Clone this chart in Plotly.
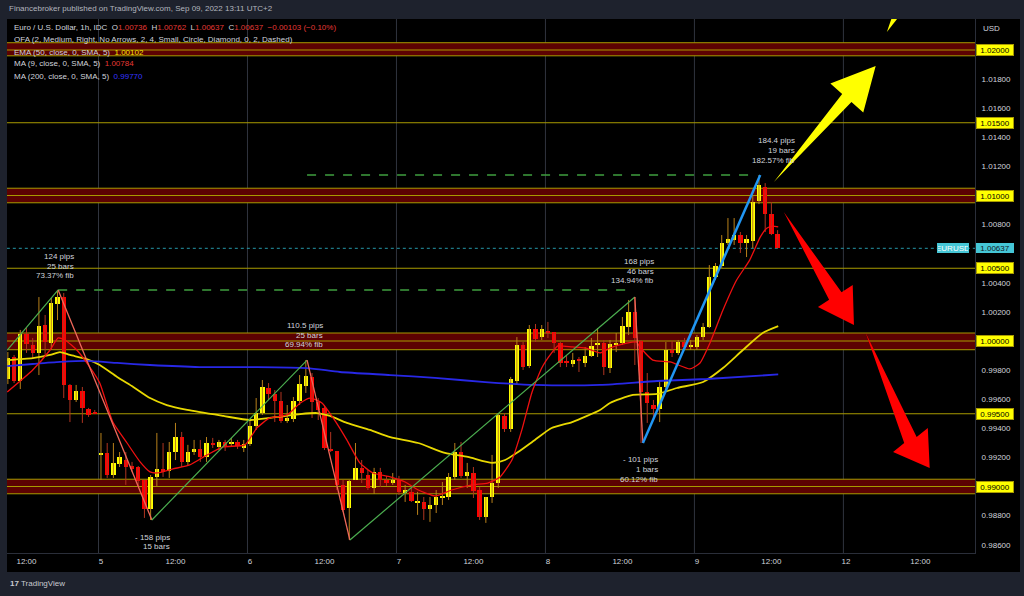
import plotly.graph_objects as go

FONT = "Liberation Sans, Arial, sans-serif"
TXT = "#d1d4dc"

# ---------------- data (hour offsets from Sep 5 00:00, hourly EURUSD) ----------------
hours = list(range(-15, 110))
opens = [0.99739, 0.99890, 0.99725, 1.00048, 0.99973, 0.99918, 1.00110, 0.99986, 1.00254, 1.00302,
         0.99698, 0.99595, 0.99656, 0.99533, 0.99512,
         0.99217, 0.99231, 0.99079, 0.99155, 0.99182, 0.99141, 0.99134, 0.99045, 0.98846, 0.99066,
         0.99121, 0.99107, 0.99237, 0.99340, 0.99169, 0.99237, 0.99258, 0.99203, 0.99299, 0.99272,
         0.99306, 0.99292, 0.99306, 0.99265, 0.99292, 0.99416, 0.99505, 0.99677, 0.99636, 0.99588,
         0.99450, 0.99464, 0.99588, 0.99691, 0.99753, 0.99581, 0.99540, 0.99258, 0.99244, 0.99011,
         0.98853, 0.99045, 0.99128, 0.99079, 0.98990, 0.99100, 0.99045, 0.99024, 0.99045, 0.98956,
         0.98963, 0.98887, 0.98894, 0.98846, 0.98873, 0.98921, 0.98928, 0.99066, 0.99237, 0.99073,
         0.99093, 0.98976, 0.98791, 0.98928, 0.99024, 0.99485, 0.99395, 0.99725, 0.99973, 0.99828,
         1.00082, 1.00027, 1.00069, 1.00062, 0.99986, 0.99856, 0.99842, 0.99876, 0.99849, 0.99897,
         0.99979, 0.99986, 0.99814, 0.99979, 0.99986, 1.00096, 1.00199, 1.00000, 0.99650, 0.99560,
         0.99533, 0.99684, 0.99938, 0.99918, 0.99993, 0.99959, 0.99959, 1.00027, 1.00096, 1.00440,
         1.00515, 1.00673, 1.00694, 1.00728, 1.00673, 1.00687, 1.00962, 1.01058, 1.00872, 1.00736]
highs = [0.99924, 0.99904, 1.00076, 1.00089, 1.00021, 1.00302, 1.00179, 1.00296, 1.00344, 1.00330,
         0.99704, 0.99698, 0.99684, 0.99540, 0.99526,
         0.99368, 0.99299, 0.99299, 0.99237, 0.99237, 0.99169, 0.99141, 0.99045, 0.99079, 0.99368,
         0.99299, 0.99306, 0.99437, 0.99375, 0.99286, 0.99320, 0.99320, 0.99340, 0.99334, 0.99320,
         0.99320, 0.99334, 0.99320, 0.99320, 0.99457, 0.99608, 0.99732, 0.99711, 0.99663, 0.99650,
         0.99560, 0.99615, 0.99766, 0.99869, 0.99780, 0.99608, 0.99560, 0.99375, 0.99244, 0.99045,
         0.99045, 0.99299, 0.99182, 0.99114, 0.99128, 0.99128, 0.99073, 0.99093, 0.99073, 0.99011,
         0.98990, 0.98963, 0.98928, 0.98928, 0.98976, 0.99031, 0.99093, 0.99299, 0.99306, 0.99162,
         0.99134, 0.98997, 0.98928, 0.99217, 0.99505, 0.99505, 0.99753, 1.00027, 0.99993, 1.00110,
         1.00117, 1.00110, 1.00131, 1.00062, 0.99993, 0.99904, 0.99918, 0.99890, 0.99959, 1.00021,
         1.00089, 1.00007, 1.00007, 1.00055, 1.00165, 1.00282, 1.00302, 1.00007, 0.99780, 0.99595,
         0.99732, 0.99993, 1.00000, 1.00007, 1.00021, 1.00007, 1.00041, 1.00124, 1.00522, 1.00536,
         1.00728, 1.00845, 1.00845, 1.00749, 1.00728, 1.01003, 1.01140, 1.01085, 1.00955, 1.00762]
lows = [0.99704, 0.99711, 0.99670, 0.99918, 0.99876, 0.99766, 0.99904, 0.99938, 1.00144, 0.99608,
        0.99443, 0.99581, 0.99437, 0.99478, 0.99498,
        0.99045, 0.99059, 0.99059, 0.99134, 0.99011, 0.99100, 0.98997, 0.98784, 0.98770, 0.98997,
        0.99066, 0.99059, 0.99182, 0.99134, 0.99148, 0.99217, 0.99169, 0.99169, 0.99265, 0.99251,
        0.99244, 0.99272, 0.99258, 0.99237, 0.99279, 0.99389, 0.99492, 0.99595, 0.99443, 0.99437,
        0.99437, 0.99443, 0.99560, 0.99643, 0.99471, 0.99457, 0.99251, 0.99237, 0.98976, 0.98825,
        0.98633, 0.99045, 0.99024, 0.98976, 0.98949, 0.98997, 0.99004, 0.99011, 0.98942, 0.98894,
        0.98894, 0.98805, 0.98770, 0.98757, 0.98818, 0.98873, 0.98908, 0.99045, 0.99059, 0.98990,
        0.98921, 0.98770, 0.98750, 0.98887, 0.98990, 0.99375, 0.99375, 0.99698, 0.99801, 0.99814,
        0.99993, 1.00007, 1.00021, 0.99918, 0.99821, 0.99821, 0.99821, 0.99787, 0.99821, 0.99890,
        0.99890, 0.99766, 0.99780, 0.99924, 0.99973, 1.00041, 0.99835, 0.99299, 0.99437, 0.99471,
        0.99443, 0.99663, 0.99890, 0.99904, 0.99945, 0.99938, 0.99938, 1.00007, 1.00089, 1.00419,
        1.00502, 1.00660, 1.00660, 1.00605, 1.00577, 1.00639, 1.00941, 1.00749, 1.00728, 1.00637]
closes = [0.99883, 0.99725, 1.00048, 0.99979, 0.99918, 1.00103, 0.99993, 1.00261, 1.00302, 0.99698,
          0.99595, 0.99656, 0.99540, 0.99492, 0.99505,
          0.99224, 0.99079, 0.99162, 0.99203, 0.99134, 0.99121, 0.99038, 0.98846, 0.99066, 0.99121,
          0.99100, 0.99237, 0.99340, 0.99169, 0.99237, 0.99258, 0.99203, 0.99299, 0.99292, 0.99306,
          0.99272, 0.99306, 0.99279, 0.99292, 0.99416, 0.99505, 0.99684, 0.99636, 0.99588, 0.99450,
          0.99471, 0.99588, 0.99704, 0.99760, 0.99581, 0.99526, 0.99265, 0.99244, 0.99011, 0.98839,
          0.99038, 0.99128, 0.99093, 0.98990, 0.99100, 0.99045, 0.99024, 0.99045, 0.98963, 0.98976,
          0.98901, 0.98901, 0.98846, 0.98873, 0.98928, 0.98928, 0.99066, 0.99237, 0.99073, 0.99100,
          0.98969, 0.98791, 0.98928, 0.99024, 0.99492, 0.99395, 0.99739, 0.99973, 0.99821, 1.00082,
          1.00014, 1.00082, 1.00055, 0.99986, 0.99849, 0.99849, 0.99869, 0.99863, 0.99897, 0.99966,
          0.99986, 0.99821, 0.99979, 0.99986, 1.00103, 1.00199, 1.00021, 0.99650, 0.99574, 0.99533,
          0.99684, 0.99938, 0.99918, 0.99993, 0.99959, 0.99966, 1.00027, 1.00096, 1.00440, 1.00515,
          1.00673, 1.00701, 1.00728, 1.00673, 1.00701, 1.00955, 1.01072, 1.00872, 1.00736, 1.00637]

# indicator lines (hour, value)
ma9_h = [-15.1, -11.0, -8.2, -6.9, -5.8, -3.9, -1.8, -0.2, 1.9, 4.2, 6.3, 7.9, 9.0, 11.6, 14.3, 17.1,
         19.7, 23.2, 25.1, 27.2, 30.0, 32.1, 33.7, 35.6, 37.4, 39.6, 41.7, 43.8, 46.6, 49.0, 51.1, 53.8,
         56.5, 59.8, 62.3, 64.3, 66.2, 67.8, 69.4, 71.0, 72.6, 73.6, 75.9, 78.0, 80.4, 82.0, 84.7, 86.3,
         86.8, 88.9, 91.7, 94.9, 96.5, 98.1, 100.2, 102.4, 104.5, 106.2, 107.3, 108.2, 109.1]
ma9_v = [0.99650, 0.99801, 0.99938, 1.00021, 1.00007, 0.99938, 0.99821, 0.99711, 0.99443, 0.99299,
         0.99169, 0.99100, 0.99093, 0.99121, 0.99148, 0.99217, 0.99272, 0.99286, 0.99402, 0.99471,
         0.99492, 0.99574, 0.99608, 0.99574, 0.99471, 0.99320, 0.99162, 0.99093, 0.99066, 0.99031,
         0.98976, 0.98935, 0.98976, 0.99011, 0.99024, 0.99066, 0.99182, 0.99389, 0.99643, 0.99814,
         0.99918, 0.99966, 0.99959, 0.99952, 0.99918, 0.99952, 0.99986, 0.99993, 0.99959, 0.99869,
         0.99856, 0.99808, 0.99849, 0.99986, 1.00213, 1.00419, 1.00556, 1.00714, 1.00776, 1.00790,
         1.00784]
ema50_h = [-15.1, -11.0, -8.2, -6.6, -5.0, -2.3, -0.2, 2.6, 5.2, 7.9, 10.6, 13.9, 19.7, 24.0, 28.4,
           32.1, 34.8, 36.9, 39.6, 43.3, 46.6, 51.1, 55.4, 59.1, 63.0, 65.1, 67.2, 69.9, 72.6, 75.9,
           80.4, 82.0, 85.7, 89.6, 92.8, 97.0, 100.2, 103.4, 106.6, 109.1]
ema50_v = [0.99869, 0.99883, 0.99904, 0.99924, 0.99904, 0.99876, 0.99835, 0.99753, 0.99684, 0.99608,
           0.99560, 0.99526, 0.99485, 0.99457, 0.99478, 0.99498, 0.99505, 0.99485, 0.99437, 0.99389,
           0.99340, 0.99299, 0.99231, 0.99203, 0.99162, 0.99182, 0.99237, 0.99320, 0.99402, 0.99443,
           0.99526, 0.99574, 0.99629, 0.99636, 0.99677, 0.99718, 0.99814, 0.99938, 1.00055, 1.00102]
ma200_h = [-15.1, -11.0, -6.6, -2.3, 2.6, 7.9, 15.9, 25.1, 33.2, 38.5, 46.6, 53.8, 61.9, 69.9, 80.4,
           89.6, 97.6, 109.1]
ma200_v = [0.99828, 0.99842, 0.99856, 0.99863, 0.99849, 0.99835, 0.99821, 0.99821, 0.99814, 0.99787,
           0.99766, 0.99746, 0.99718, 0.99698, 0.99698, 0.99725, 0.99739, 0.99770]

x_tickvals = [-12, 0, 12, 24, 36, 48, 60, 72, 84, 96, 108, 120, 132]
x_ticktext = ["12:00", "5", "12:00", "6", "12:00", "7", "12:00", "8", "12:00", "9", "12:00", "12", "12:00"]
day_lines = [-0.4, 23.6, 47.6, 71.6, 95.6, 119.6]
y_ticks = [1.018, 1.016, 1.014, 1.012, 1.008, 1.004, 1.002, 0.998, 0.996, 0.994, 0.992, 0.988, 0.986]
single_levels = [1.015, 1.005, 0.995]
zone_levels = [1.02, 1.01, 1.00, 0.99]
zone_low = [1.0196, 1.0095, 0.9994, 0.9895]
zone_high = [1.0205, 1.0105, 1.00055, 0.9905]
last_price = 1.00637

# measurement drawing pivots (hour, price)
seg_h = [-15.1, -6.9, 8.2, 33.2, 40.1, 86.0, 87.3, 106.2]
seg_p = [0.99938, 1.00351, 0.98770, 0.99869, 0.98632, 1.00302, 0.99299, 1.01141]
dash_h0 = [-6.9, 33.2]
dash_h1 = [85.5, 105.7]
dash_p = [1.00351, 1.01141]

# ---------------- layout geometry ----------------
PL, PR, PT, PB = 7, 975, 19, 553
def P(px, py):
    return (px - PL) / (PR - PL), (PB - py) / (PB - PT)

fig = go.Figure()

# candles: wicks then bodies
up = [c >= o for o, c in zip(opens, closes)]
for flag, wcol, bcol in [(True, "#b8801a", "#ffff00"), (False, "#b03420", "#ff0000")]:
    wx, wy = [], []
    bx, by, bb = [], [], []
    for h, o, hi, lo, c, u in zip(hours, opens, highs, lows, closes, up):
        if u != flag:
            continue
        wx += [h, h, None]
        wy += [lo, hi, None]
        size = abs(c - o)
        minh = 0.00007
        if size < minh:
            bb.append((o + c) / 2 - minh / 2)
            by.append(minh)
        else:
            bb.append(min(o, c))
            by.append(size)
        bx.append(h)
    fig.add_trace(go.Scatter(x=wx, y=wy, mode="lines", line=dict(color=wcol, width=1),
                             hoverinfo="skip"))
    fig.add_trace(go.Bar(x=bx, y=by, base=bb, width=0.7, marker=dict(color=bcol, line=dict(width=0)),
                         hoverinfo="skip"))

# indicators
fig.add_trace(go.Scatter(x=ema50_h, y=ema50_v, mode="lines",
                         line=dict(color="#e8d800", width=1.8, shape="spline", smoothing=0.6), hoverinfo="skip"))
fig.add_trace(go.Scatter(x=ma200_h, y=ma200_v, mode="lines",
                         line=dict(color="#2828e6", width=1.8, shape="spline", smoothing=0.6), hoverinfo="skip"))
fig.add_trace(go.Scatter(x=ma9_h, y=ma9_v, mode="lines",
                         line=dict(color="#f01010", width=1.3, shape="spline", smoothing=0.5), hoverinfo="skip"))

shapes = []
# chart frame (black incl. axes)
x1f, _ = P(1020, 0)
_, y0f = P(0, 572)
shapes.append(dict(type="rect", xref="paper", yref="paper", x0=0, x1=x1f, y0=y0f, y1=1,
                   fillcolor="#000000", line=dict(width=0), layer="below"))
# day grid lines
for d in day_lines:
    shapes.append(dict(type="line", xref="x", yref="paper", x0=d, x1=d, y0=0, y1=1,
                       line=dict(color="#30343e", width=1), layer="below"))
# zones
for lv, lo, hi in zip(zone_levels, zone_low, zone_high):
    shapes.append(dict(type="rect", xref="x", yref="y", x0=-20, x1=150, y0=lo, y1=hi,
                       fillcolor="#5c0202", line=dict(width=0), layer="below"))
    for yv in (lo, lv, hi):
        shapes.append(dict(type="line", xref="x", yref="y", x0=-20, x1=150, y0=yv, y1=yv,
                           line=dict(color="#a89a00", width=1), layer="below"))
for lv in single_levels:
    shapes.append(dict(type="line", xref="x", yref="y", x0=-20, x1=150, y0=lv, y1=lv,
                       line=dict(color="#a89a00", width=1), layer="below"))
# last price dotted line
shapes.append(dict(type="line", xref="x", yref="y", x0=-20, x1=150, y0=last_price, y1=last_price,
                   line=dict(color="#2596a8", width=1, dash="dot"), layer="below"))
# dashed targets
for a, b, p in zip(dash_h0, dash_h1, dash_p):
    shapes.append(dict(type="line", xref="x", yref="y", x0=a, x1=b, y0=p, y1=p,
                       line=dict(color="#3f9f3f", width=1.5, dash="dash"), layer="above"))
# measurement segments
seg_cols = ["#4caf50", "#f0685a", "#4caf50", "#f0685a", "#4caf50", "#f0685a", "#2196f3"]
seg_w = [1.2, 1.3, 1.2, 1.3, 1.2, 1.3, 2.5]
for i in range(len(seg_h) - 1):
    shapes.append(dict(type="line", xref="x", yref="y", x0=seg_h[i], x1=seg_h[i + 1],
                       y0=seg_p[i], y1=seg_p[i + 1], line=dict(color=seg_cols[i], width=seg_w[i]),
                       layer="above"))

# hand-drawn arrows (hour, price outlines)
arrows = [
    ("#ffff00", [(108.4, 1.01093), (120.9, 1.01643), (122.8, 1.01570), (124.8, 1.01890),
                 (117.5, 1.01770), (119.4, 1.01698)]),
    ("#ffff00", [(126.6, 1.02124), (127.6, 1.02247), (128.5, 1.02227)]),
    ("#ff0000", [(110.0, 1.00887), (119.3, 1.00335), (121.1, 1.00385), (121.3, 1.00110),
                 (115.5, 1.00234), (117.3, 1.00284)]),
    ("#ff0000", [(123.2, 1.00055), (131.4, 0.99340), (133.2, 0.99402), (133.5, 0.99127),
                 (127.6, 0.99237), (129.4, 0.99299)]),
]
for col, pts in arrows:
    path = "M " + " L ".join(f"{h},{p}" for h, p in pts) + " Z"
    shapes.append(dict(type="path", xref="x", yref="y", path=path, fillcolor=col,
                       line=dict(width=0), layer="above"))

ann = []
def txt(px, py, s, anchor="left", size=8, color=TXT):
    x, y = P(px, py)
    ann.append(dict(xref="paper", yref="paper", x=x, y=y, text=s, showarrow=False,
                    xanchor=anchor, yanchor="middle", font=dict(family=FONT, size=size, color=color)))

RED = "#e53935"
NB = "\u00a0"
txt(7, 9, "Financebroker published on TradingView.com, Sep 09, 2022 13:11 UTC+2", color="#b2b5be")
txt(12, 27, f"Euro / U.S. Dollar, 1h, IDC{NB}{NB}O<span style='color:{RED}'>1.00736</span>{NB}{NB}"
            f"H<span style='color:{RED}'>1.00762</span>{NB}{NB}L<span style='color:{RED}'>1.00637</span>{NB}{NB}"
            f"C<span style='color:{RED}'>1.00637</span>{NB}{NB}<span style='color:{RED}'>\u22120.00103 (\u22120.10%)</span>")
txt(12, 40, "OFA (2, Medium, Right, No Arrows, 2, 4, Small, Circle, Diamond, 0, 2, Dashed)")
txt(12, 52, f"EMA (50, close, 0, SMA, 5){NB}{NB}<span style='color:#f2e600'>1.00102</span>")
txt(12, 64, f"MA (9, close, 0, SMA, 5){NB}{NB}<span style='color:{RED}'>1.00784</span>")
txt(12, 76, f"MA (200, close, 0, SMA, 5){NB}{NB}<span style='color:#3535ff'>0.99770</span>")
txt(981, 28, "USD")
txt(8, 583, "<b>17</b> TradingView", color="#c8cad0")

labels = [
    (76, [256, 266, 275], ["124 pips", "25 bars", "73.37% fib"]),
    (325, [325, 335, 344], ["110.5 pips", "25 bars", "69.94% fib"]),
    (656, [261, 271, 280], ["168 pips", "46 bars", "134.94% fib"]),
    (797, [140, 150, 160], ["184.4 pips", "19 bars", "182.57% fib"]),
    (660, [459, 469, 479], ["- 101 pips", "1 bars", "60.12% fib"]),
    (172, [537, 546], ["- 158 pips", "15 bars"]),
]
for rx, ys, lines in labels:
    for yy, s in zip(ys, lines):
        txt(rx, yy, s, anchor="right")

# price-axis badges
bx0, _ = P(976, 0)
for lv in [1.02, 1.015, 1.01, 1.005, 1.0, 0.995, 0.99]:
    ann.append(dict(xref="paper", yref="y", x=bx0, y=lv, text=f"{lv:.5f}", showarrow=False,
                    xanchor="left", yanchor="middle", width=34, height=8, borderpad=1,
                    bgcolor="#ffff00", bordercolor="#a89a00", borderwidth=1,
                    font=dict(family=FONT, size=8, color="#000000")))
ann.append(dict(xref="paper", yref="y", x=bx0, y=last_price, text=f"{last_price:.5f}", showarrow=False,
                xanchor="left", yanchor="middle", width=36, height=8, borderpad=1,
                bgcolor="#45c6d6", borderwidth=0, font=dict(family=FONT, size=8, color="#131722")))
ex, _ = P(937, 0)
ann.append(dict(xref="paper", yref="y", x=ex, y=last_price, text="EURUSD", showarrow=False,
                xanchor="left", yanchor="middle", width=30, height=8, borderpad=1,
                bgcolor="#45c6d6", borderwidth=0, font=dict(family=FONT, size=8, color="#ffffff")))

fig.update_layout(
    width=1024, height=596,
    margin=dict(l=PL, r=1024 - PR, t=PT, b=596 - PB),
    paper_bgcolor="#1e222d", plot_bgcolor="#000000",
    barmode="overlay", showlegend=False, bargap=0,
    shapes=shapes, annotations=ann,
    xaxis=dict(range=[-15.14, 140.8], tickvals=x_tickvals, ticktext=x_ticktext, showgrid=False,
               zeroline=False, ticks="", showline=True, linecolor="#2a2e39", linewidth=1,
               tickfont=dict(family=FONT, size=8, color=TXT), fixedrange=True),
    yaxis=dict(range=[0.98543, 1.02213], side="right", tickvals=y_ticks, tickformat=".5f",
               showgrid=False, zeroline=False, ticks="", showline=True, linecolor="#2a2e39",
               linewidth=1, ticklabelstandoff=4, tickfont=dict(family=FONT, size=8, color=TXT),
               fixedrange=True),
)

fig.write_html("out.html")
